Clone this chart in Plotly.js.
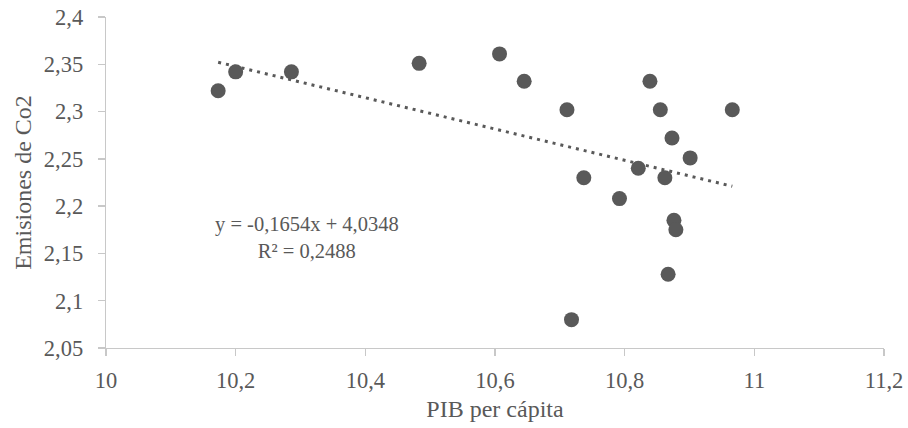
<!DOCTYPE html>
<html>
<head>
<meta charset="utf-8">
<script src="https://cdn.plot.ly/plotly-3.0.1.min.js"></script>
<style>html,body{margin:0;padding:0;background:#fff;}#chart{width:908px;height:428px;}</style>
</head>
<body>
<div id="chart"></div>
<script>
// Data
const pibPerCapita = [10.173, 10.200, 10.286, 10.483, 10.607, 10.645, 10.839, 10.711, 10.855, 10.966,
                      10.873, 10.901, 10.821, 10.737, 10.862, 10.792, 10.876, 10.879, 10.867, 10.718];
const emisionesCo2 = [2.322, 2.342, 2.342, 2.351, 2.361, 2.332, 2.332, 2.302, 2.302, 2.302,
                      2.272, 2.251, 2.240, 2.230, 2.230, 2.208, 2.185, 2.175, 2.128, 2.080];
// Trendline equation shown on the chart
const trendSlope = -0.1654;
const trendIntercept = 4.0348;
const trendR2 = 0.2488;
const xTickVals = [10, 10.2, 10.4, 10.6, 10.8, 11, 11.2];
const yTickVals = [2.05, 2.1, 2.15, 2.2, 2.25, 2.3, 2.35, 2.4];

const xMin = Math.min(...pibPerCapita), xMax = Math.max(...pibPerCapita);
const trendX = [xMin, xMax];
const trendY = trendX.map(x => trendSlope * x + trendIntercept);

const fmt = v => String(v).replace('.', ',');
const FONT = 'Liberation Serif';
const TXT = '#595959';

const traces = [
  {x: trendX, y: trendY, mode: 'lines', type: 'scatter',
   line: {color: '#595959', width: 3, dash: '3px,5px'}, hoverinfo: 'skip', showlegend: false},
  {x: pibPerCapita, y: emisionesCo2, mode: 'markers', type: 'scatter',
   marker: {color: '#595959', size: 15}, showlegend: false}
];

const layout = {
  width: 908, height: 428,
  margin: {l: 106, r: 24, t: 17, b: 80},
  paper_bgcolor: '#fff', plot_bgcolor: '#fff',
  separators: ',.',
  font: {family: FONT, color: TXT, size: 22},
  xaxis: {
    range: [10, 11.2], tickvals: xTickVals, ticktext: xTickVals.map(fmt),
    showgrid: false, zeroline: false, showline: true, linecolor: '#c8c8c8', linewidth: 1.3,
    ticks: 'outside', ticklen: 7, tickcolor: '#c8c8c8', tickwidth: 1.3, ticklabelstandoff: 5,
    tickfont: {family: FONT, size: 22.5, color: TXT},
    title: {text: 'PIB per cápita', font: {family: FONT, size: 24, color: TXT}, standoff: 8}
  },
  yaxis: {
    range: [2.05, 2.4], tickvals: yTickVals, ticktext: yTickVals.map(fmt),
    showgrid: false, zeroline: false, showline: true, linecolor: '#c8c8c8', linewidth: 1.3,
    ticks: 'outside', ticklen: 7, tickcolor: '#c8c8c8', tickwidth: 1.3, ticklabelstandoff: 10,
    tickfont: {family: FONT, size: 22.5, color: TXT},
    title: {text: 'Emisiones de Co2', font: {family: FONT, size: 24, color: TXT}, standoff: 5}
  },
  annotations: [{
    x: 10.31, y: 2.167, xref: 'x', yref: 'y', showarrow: false, align: 'center',
    text: 'y = ' + fmt(trendSlope) + 'x + ' + fmt(trendIntercept) + '<br>R² = ' + fmt(trendR2),
    font: {family: FONT, size: 20.5, color: TXT}
  }]
};

function draw() {
  Plotly.newPlot('chart', traces, layout, {displayModeBar: false, staticPlot: true});
}
if (document.fonts && document.fonts.load) {
  document.fonts.load('21px "Liberation Serif"').then(draw, draw);
} else {
  draw();
}
</script>
</body>
</html>
